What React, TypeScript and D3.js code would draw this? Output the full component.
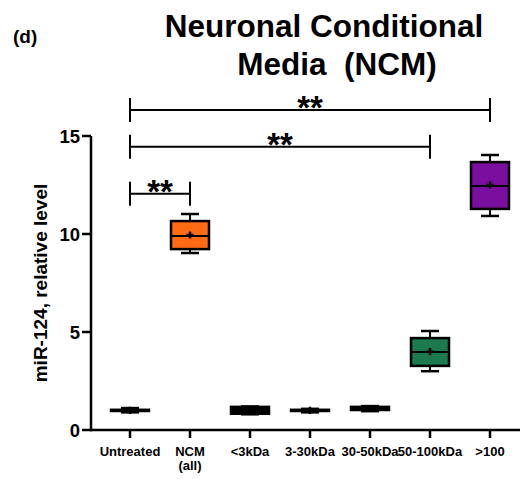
import * as d3 from 'd3'

const categories = ['Untreated', 'NCM\n(all)', '<3kDa', '3-30kDa', '30-50kDa', '50-100kDa', '>100']
const mins = [0.9, 9.03, 0.8, 0.9, 0.96, 3.0, 10.92]
const q1s = [0.97, 9.23, 0.83, 0.97, 1.02, 3.27, 11.28]
const medians = [1.0, 9.9, 0.98, 1.0, 1.1, 3.98, 12.45]
const q3s = [1.03, 10.66, 1.18, 1.03, 1.18, 4.69, 13.67]
const maxs = [1.12, 11.02, 1.2, 1.08, 1.22, 5.05, 14.03]
const means = [1.0, 9.95, 1.0, 1.0, 1.1, 4.0, 12.5]
const colors = ['#000000', '#ff6a13', '#000000', '#000000', '#000000', '#1b7a4e', '#7a0e9e']

const yTicks = [0, 5, 10, 15]

// significance brackets: from, to, height in data units
const brackets = [
  { from: 'Untreated', to: '>100', level: 16.33, label: '**' },
  { from: 'Untreated', to: '50-100kDa', level: 14.45, label: '**' },
  { from: 'Untreated', to: 'NCM\n(all)', level: 12.05, label: '**' },
]

const font = '"Liberation Sans", Arial, sans-serif'

export default function App() {
  const width = 529, height = 479

  const x = d3.scalePoint<string>().domain(categories).range([130, 490])
  const y = d3.scaleLinear().domain([0, 15]).range([430, 136])

  const boxW = 38
  const capW = 18
  const cross = d3.symbol().type(d3.symbolCross).size(28)()

  return (
    <svg width={width} height={height} style={{ position: 'absolute', left: 0, top: 0, fontFamily: font }}>
      <rect width={width} height={height} fill="#fff" />

      <text x={13} y={43} fontSize={19} fontWeight="bold">(d)</text>
      <text x={324} y={37} fontSize={31.5} fontWeight="bold" textAnchor="middle">Neuronal Conditional</text>
      <text x={337} y={75} fontSize={31.5} fontWeight="bold" textAnchor="middle" style={{ whiteSpace: 'pre' }}>Media  (NCM)</text>

      {/* y axis */}
      <line x1={91} x2={91} y1={y(15)} y2={y(0) + 1.25} stroke="#000" strokeWidth={2.5} />
      {yTicks.map(t => (
        <g key={t}>
          <line x1={82} x2={91} y1={y(t)} y2={y(t)} stroke="#000" strokeWidth={2.5} />
          <text x={80} y={y(t)} dy="0.36em" fontSize={18.5} fontWeight="bold" textAnchor="end">{t}</text>
        </g>
      ))}
      <text transform={`translate(47,283) rotate(-90)`} fontSize={19} fontWeight="bold" textAnchor="middle">
        miR-124, relative level
      </text>

      {/* x axis */}
      <line x1={90} x2={520} y1={y(0)} y2={y(0)} stroke="#000" strokeWidth={2.5} />
      {categories.map(c => (
        <g key={c}>
          <line x1={x(c)} x2={x(c)} y1={y(0)} y2={y(0) + 8} stroke="#000" strokeWidth={2.5} />
          {c.split('\n').map((part, i) => (
            <text key={i} x={x(c)} y={456 + i * 14} fontSize={13} fontWeight="bold" textAnchor="middle">{part}</text>
          ))}
        </g>
      ))}

      {/* boxes */}
      {categories.map((c, i) => {
        const cx = x(c) as number
        return (
          <g key={c} stroke="#000" strokeWidth={2}>
            <line x1={cx} x2={cx} y1={y(maxs[i])} y2={y(q3s[i])} />
            <line x1={cx} x2={cx} y1={y(q1s[i])} y2={y(mins[i])} />
            <line x1={cx - capW / 2} x2={cx + capW / 2} y1={y(maxs[i])} y2={y(maxs[i])} strokeWidth={2.5} />
            <line x1={cx - capW / 2} x2={cx + capW / 2} y1={y(mins[i])} y2={y(mins[i])} strokeWidth={2.5} />
            <rect x={cx - boxW / 2} width={boxW} y={y(q3s[i])} height={y(q1s[i]) - y(q3s[i])} fill={colors[i]} strokeWidth={2.5} />
            <line x1={cx - boxW / 2} x2={cx + boxW / 2} y1={y(medians[i])} y2={y(medians[i])} />
            <path d={cross as string} transform={`translate(${cx},${y(means[i])})`} fill="#000" stroke="none" />
          </g>
        )
      })}

      {/* significance */}
      {brackets.map((b, i) => {
        const x1 = x(b.from) as number
        const x2 = x(b.to) as number
        const by = y(b.level)
        return (
          <g key={i}>
            <line x1={x1} x2={x2} y1={by} y2={by} stroke="#000" strokeWidth={2} />
            <line x1={x1} x2={x1} y1={by - 12} y2={by + 12} stroke="#000" strokeWidth={2} />
            <line x1={x2} x2={x2} y1={by - 12} y2={by + 12} stroke="#000" strokeWidth={2} />
            <text x={(x1 + x2) / 2} y={by + 9} fontSize={33} fontWeight="bold" textAnchor="middle">{b.label}</text>
          </g>
        )
      })}
    </svg>
  )
}
